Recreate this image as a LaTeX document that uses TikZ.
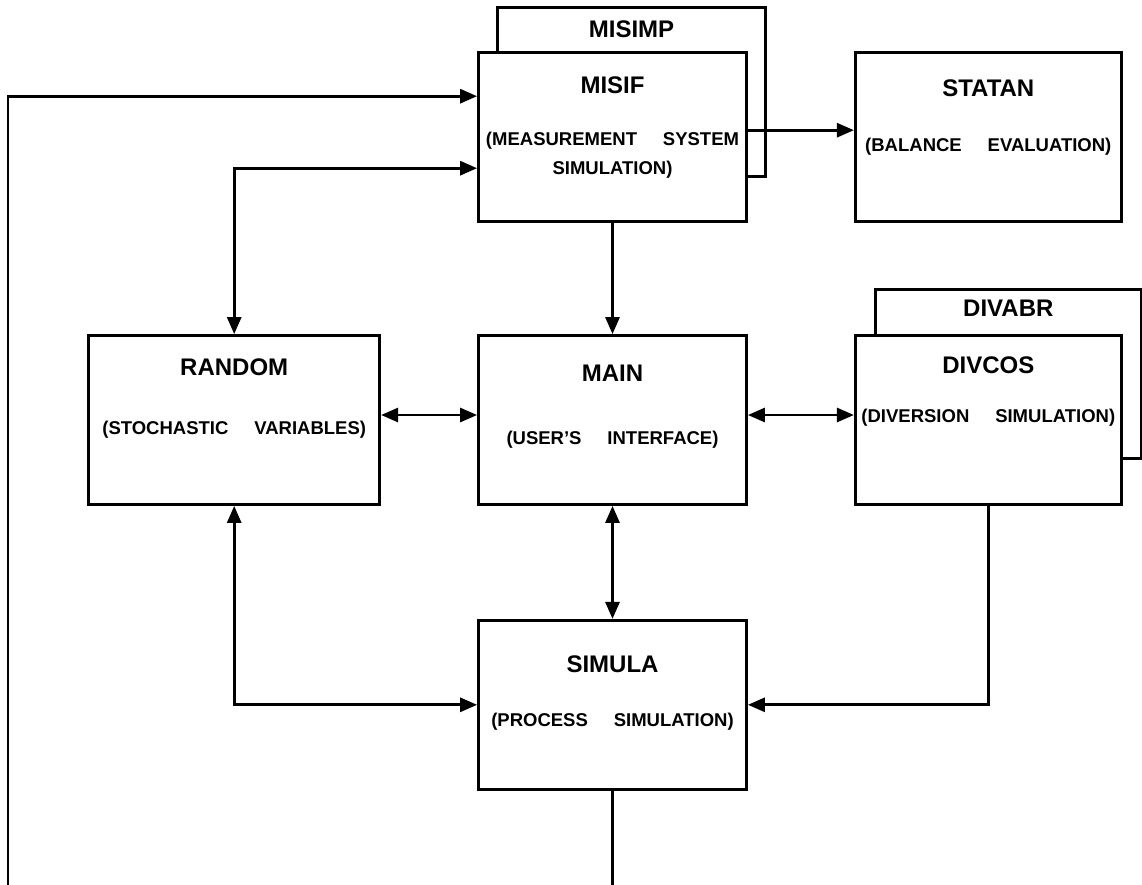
\documentclass[tikz,border=0pt]{standalone}
\usepackage{fontspec}
\setmainfont{Liberation Sans}
\usetikzlibrary{positioning,arrows.meta,backgrounds}

\begin{document}
\begin{tikzpicture}[
	x=1pt, y=-1pt,
	>={Triangle[length=17pt,width=14pt]},
	every path/.style={line width=2.8pt},
	box/.style={
		draw,
		fill = white,
		minimum width = 268pt,
		minimum height = 169pt,
	},
	title/.style={font=\bfseries\fontsize{24}{28}\selectfont},
	subtitle/.style={font=\bfseries\fontsize{18.5}{29}\selectfont, align=center},
	]

	\useasboundingbox (0,0) rectangle (1142,884);

	\node[box] (main) at (612.5,420) {};
	\node[box, above=111pt of main] (misif) {};
	\node[box, below=113pt of main] (simula) {};
	\node[box, left=96pt of main, minimum width=291pt] (random) {};
	\node[box, right=106pt of main, minimum width=266pt] (divcos) {};
	\node[box, right=106pt of misif, minimum width=266pt] (statan) {};

	% boxes behind
	\begin{scope}[on background layer]
		\node[box] (misimp) at ([shift={(19,-45)}]misif.center) {};
		\node[box, minimum width=266pt] (divabr) at ([shift={(20,-46)}]divcos.center) {};
	\end{scope}

	\node[title] (misimp-t) at ([yshift=-23pt]misimp.north) {MISIMP};
	\node[title] (divabr-t) at ([yshift=-20pt]divabr.north) {DIVABR};

	\node[title] (misif-t) at ([yshift=-34pt]misif.north) {MISIF};
	\node[subtitle] (misif-s) at ([yshift=-104pt]misif.north) {(MEASUREMENT\hspace{1.4em}SYSTEM\\SIMULATION)};

	\node[title] (statan-t) at ([yshift=-37pt]statan.north) {STATAN};
	\node[subtitle] (statan-s) at ([yshift=-95pt]statan.north) {(BALANCE\hspace{1.4em}EVALUATION)};

	\node[title] (random-t) at ([yshift=-33pt]random.north) {RANDOM};
	\node[subtitle] (random-s) at ([yshift=-96pt]random.north) {(STOCHASTIC\hspace{1.4em}VARIABLES)};

	\node[title] (main-t) at ([yshift=-39pt]main.north) {MAIN};
	\node[subtitle] (main-s) at ([yshift=-106pt]main.north) {(USER'S\hspace{1.4em}INTERFACE)};

	\node[title] (divcos-t) at ([yshift=-31pt]divcos.north) {DIVCOS};
	\node[subtitle] (divcos-s) at ([yshift=-84pt]divcos.north) {(DIVERSION\hspace{1.4em}SIMULATION)};

	\node[title] (simula-t) at ([yshift=-45pt]simula.north) {SIMULA};
	\node[subtitle] (simula-s) at ([yshift=-103pt]simula.north) {(PROCESS\hspace{1.4em}SIMULATION)};

	% connectors
	\coordinate (loopleft) at (8,887);
	\coordinate (misifin) at ([yshift=41pt]misif.west);

	\draw[->] (simula.south) |- (loopleft) |- (misifin);
	\draw[<->] (random.north) |- ([yshift=-31pt]misif.west);
	\draw[->] ([yshift=7pt]misif.east) -- ([yshift=7pt]statan.west);
	\draw[->] (misif) -- (main);
	\draw[<->] ([yshift=5pt]random.east) -- ([yshift=5pt]main.west);
	\draw[<->] ([yshift=5pt]main.east) -- ([yshift=5pt]divcos.west);
	\draw[<->] (main) -- (simula);
	\draw[<->] (random.south) |- (simula.west);
	\draw[->] (divcos.south) |- (simula.east);

\end{tikzpicture}
\end{document}
